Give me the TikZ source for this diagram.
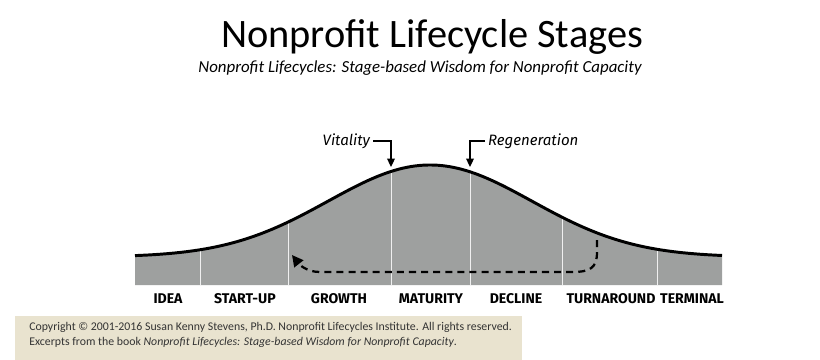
\documentclass[tikz,border=0pt]{standalone}
\usepackage{fontspec}
\setmainfont{Carlito}
\newfontfamily\stagefont{Fira Sans}
\usetikzlibrary{positioning,arrows.meta}
\definecolor{hillgray}{HTML}{9EA09F}
\definecolor{notebeige}{HTML}{E9E3CF}
\definecolor{notetext}{HTML}{333333}
\newcommand{\hill}[1]{257-92*exp(-((#1-430)/102)^2/2)}

\begin{document}
\begin{tikzpicture}[
  x=0.025cm, y=-0.025cm,
  stage/.style={font=\stagefont\bfseries\fontsize{10}{12}\selectfont, anchor=base},
  callout/.style={font=\stagefont\itshape\fontsize{10.7}{12}\selectfont, inner sep=2pt},
  pointer/.style={-{Triangle[length=6pt,width=5.5pt]}, line width=0.9pt},
  divider/.style={draw=white!88!gray, line width=0.7pt},
  loopback/.style={-{Triangle[length=8pt,width=8pt]}, line width=1.6pt, dash pattern=on 5pt off 3.6pt}
]
\useasboundingbox (0,0) rectangle (820,360);

% title block
\node[font=\fontsize{28.7}{32}\selectfont, anchor=base] (title) at (432,48) {Nonprofit Lifecycle Stages};
\node[font=\itshape\fontsize{12}{14}\selectfont, anchor=base] (subtitle) at (420,73)
  {Nonprofit Lifecycles: Stage-based Wisdom for Nonprofit Capacity};

% the lifecycle hill
\fill[hillgray] (135,285) -- plot[domain=135:722, samples=150] (\x, {\hill{\x}}) -- (722,285) -- cycle;
\foreach \d in {200,288,391,470,562,657}
  \draw[divider] (\d,285) -- (\d,{\hill{\d}});
\draw[line width=2.1pt] plot[domain=135:722, samples=150] (\x, {\hill{\x}});

% stages
\node[stage] (idea) at (168,303) {IDEA};
\node[stage] (startup) at (245,303) {START-UP};
\node[stage] (growth) at (339,303) {GROWTH};
\node[stage] (maturity) at (431,303) {MATURITY};
\node[stage] (decline) at (516,303) {DECLINE};
\node[stage] (turnaround) at (611,303) {TURNAROUND};
\node[stage] (terminal) at (692,303) {TERMINAL};

% callouts
\coordinate (vtip) at (391,167);
\coordinate (rtip) at (470,167);
\node[callout, anchor=east] (vit) at (373,141) {Vitality};
\node[callout, anchor=west] (regen) at (485,141) {Regeneration};
\draw[pointer] (vit.east) -| (vtip);
\draw[pointer] (regen.west) -| (rtip);

% turnaround loop back to growth
\coordinate (loopstart) at (597,240);
\coordinate (loopend) at (292,255);
\draw[loopback] (loopstart) -- (597,252) .. controls (597,268) and (590,272) .. (572,272)
  -- (320,272) .. controls (306,272) and (299,264) .. (loopend);

% copyright note
\fill[notebeige] (15,316) rectangle (522,362);
\node[anchor=north west, align=left, inner sep=0pt, text=notetext,
      font=\fontsize{8.4}{10.8}\selectfont] (note) at (29,322)
  {Copyright \textcopyright{} 2001-2016 Susan Kenny Stevens, Ph.D. Nonprofit Lifecycles Institute. All rights reserved.\\
   Excerpts from the book \textit{Nonprofit Lifecycles: Stage-based Wisdom for Nonprofit Capacity}.};
\end{tikzpicture}
\end{document}
